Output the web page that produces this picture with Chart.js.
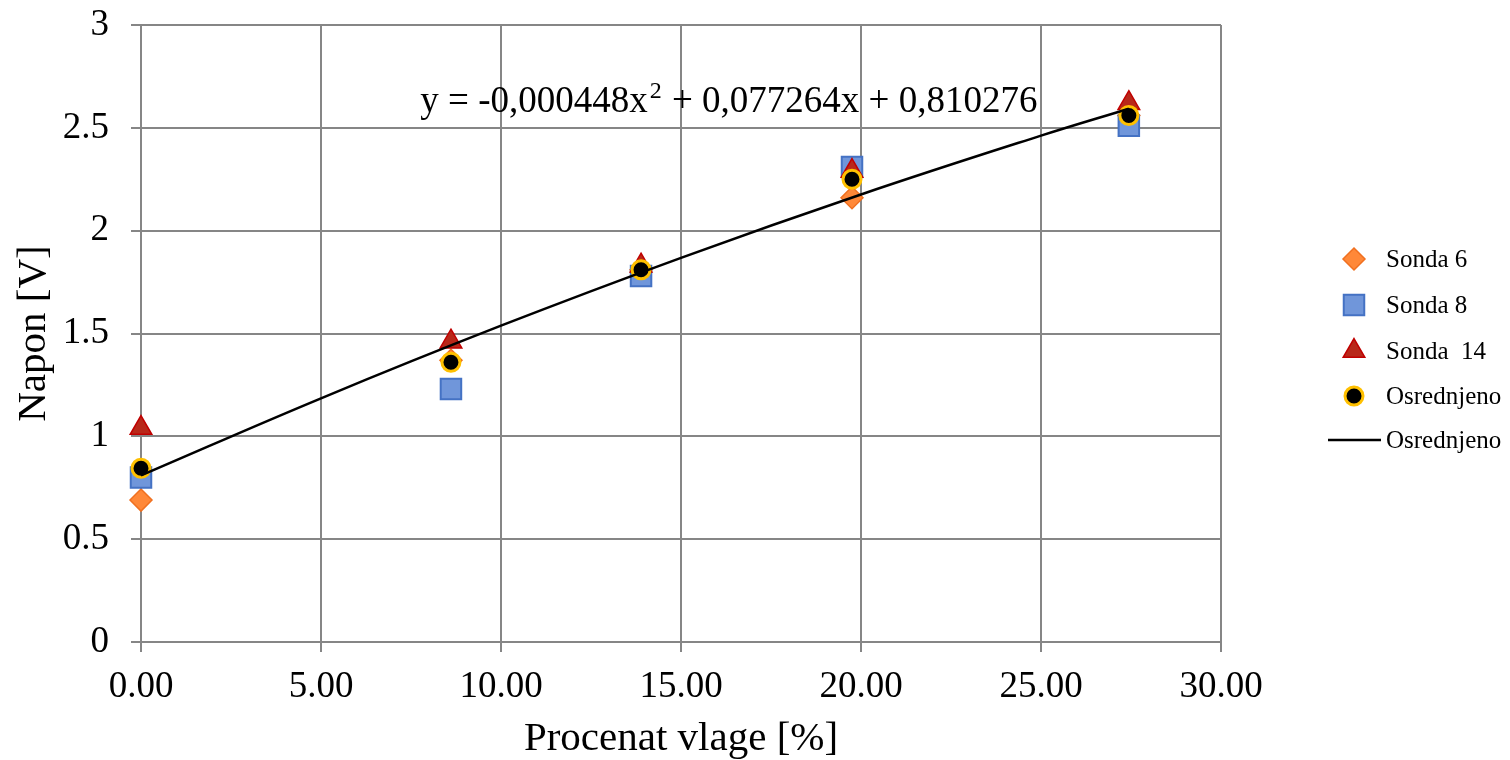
<!DOCTYPE html>
<html>
<head>
<meta charset="utf-8">
<script src="https://cdn.jsdelivr.net/npm/chart.js@4.4.1/dist/chart.umd.min.js"></script>
<style>
  html, body { margin: 0; padding: 0; background: #fff; }
  #wrap { width: 1510px; height: 760px; position: relative; }
</style>
</head>
<body>
<div id="wrap"><canvas id="chart"></canvas></div>
<script>
// Measured points (moisture % vs voltage)
const moisture = [0, 8.61, 13.89, 19.75, 27.44];
const sonda6 = [0.69, 1.37, 1.81, 2.16, 2.56];
const sonda8 = [0.80, 1.23, 1.78, 2.31, 2.51];
const sonda14 = [1.04, 1.46, 1.83, 2.29, 2.62];
const averaged = [0.845, 1.36, 1.81, 2.25, 2.56];

// Trendline
const trendX = [0, 5, 10, 15, 20, 25, 27.44];
const trendY = [0.81, 1.185, 1.538, 1.868, 2.176, 2.462, 2.593];

const eqParts = ["y = -0,000448x", "2", " + 0,077264x + 0,810276"];
const legendNames = ["Sonda 6", "Sonda 8", "Sonda  14", "Osrednjeno", "Osrednjeno"];

const serif = "'Liberation Serif', 'Times New Roman', serif";
const gridGray = "#868686";

function pts(xs, ys) {
  return xs.map((x, i) => ({ x: x, y: ys[i] }));
}

// equation label + legend drawn by hand
const extrasPlugin = {
  id: "extras",
  afterDraw(chart) {
    const ctx = chart.ctx;
    const xs = chart.scales.x, ys = chart.scales.y;
    ctx.save();
    ctx.fillStyle = "#000";
    ctx.textBaseline = "middle";
    ctx.textAlign = "left";
    const big = "37px " + serif, small = "24px " + serif;
    ctx.font = big;
    const w0 = ctx.measureText(eqParts[0]).width;
    const w2 = ctx.measureText(eqParts[2]).width;
    ctx.font = small;
    const w1 = ctx.measureText(eqParts[1]).width + 3;
    const cx = xs.getPixelForValue(16.33), cy = ys.getPixelForValue(2.625);
    let x = cx - (w0 + w1 + w2) / 2;
    ctx.font = big;
    ctx.fillText(eqParts[0], x, cy);
    ctx.font = small;
    ctx.fillText(eqParts[1], x + w0 + 2, cy - 10);
    ctx.font = big;
    ctx.fillText(eqParts[2], x + w0 + w1, cy);

    // legend
    ctx.font = "25px " + serif;
    const lx = 1354, tx = 1386;
    const rows = [259, 305, 351, 396, 440];
    chart.data.datasets.slice().sort((a, b) => a.legendIdx - b.legendIdx).forEach((ds, i) => {
      const y = rows[i];
      if (ds.showLine) {
        ctx.strokeStyle = ds.borderColor;
        ctx.lineWidth = 2.5;
        ctx.beginPath();
        ctx.moveTo(1328, y);
        ctx.lineTo(1381, y);
        ctx.stroke();
      } else {
        ctx.fillStyle = ds.pointBackgroundColor;
        ctx.strokeStyle = ds.pointBorderColor;
        ctx.lineWidth = ds.pointBorderWidth;
        Chart.helpers.drawPoint(ctx, { pointStyle: ds.pointStyle, radius: ds.pointRadius, rotation: 0, borderWidth: ds.pointBorderWidth }, lx, y);
      }
      ctx.fillStyle = "#000";
      ctx.fillText(legendNames[i], tx, y + 1);
    });
    ctx.restore();
  }
};

new Chart(document.getElementById("chart"), {
  type: "scatter",
  data: {
    datasets: [
      {
        label: "Osrednjeno",
        legendIdx: 4,
        data: pts(trendX, trendY),
        showLine: true,
        borderColor: "#000",
        borderWidth: 2.5,
        pointRadius: 0,
        tension: 0.4,
        clip: false,
        order: 0
      },
      {
        label: "Osrednjeno",
        legendIdx: 3,
        data: pts(moisture, averaged),
        pointStyle: "circle",
        pointRadius: 9,
        pointBackgroundColor: "#000",
        pointBorderColor: "#FFC000",
        pointBorderWidth: 3,
        clip: false,
        order: 1
      },
      {
        label: "Sonda  14",
        legendIdx: 2,
        data: pts(moisture, sonda14),
        pointStyle: "triangle",
        pointRadius: 12.5,
        pointBackgroundColor: "#B8281A",
        pointBorderColor: "#C00000",
        pointBorderWidth: 1.5,
        clip: false,
        order: 2
      },
      {
        label: "Sonda 8",
        legendIdx: 1,
        data: pts(moisture, sonda8),
        pointStyle: "rect",
        pointRadius: 14.5,
        pointBackgroundColor: "#7096DA",
        pointBorderColor: "#4472C4",
        pointBorderWidth: 2,
        clip: false,
        order: 3
      },
      {
        label: "Sonda 6",
        legendIdx: 0,
        data: pts(moisture, sonda6),
        pointStyle: "rectRot",
        pointRadius: 11,
        pointBackgroundColor: "#FF8838",
        pointBorderColor: "#F07020",
        pointBorderWidth: 1.5,
        clip: false,
        order: 4
      }
    ]
  },
  options: {
    responsive: true,
    maintainAspectRatio: false,
    animation: false,
    layout: { padding: { left: 0, top: 25, right: 289, bottom: 0 } },
    plugins: { legend: { display: false }, tooltip: { enabled: false } },
    scales: {
      x: {
        type: "linear",
        min: 0, max: 30,
        afterFit(s) { s.height = 118; s.paddingLeft = 0; s.paddingRight = 0; },
        grid: { color: gridGray, lineWidth: 2, tickLength: 10 },
        border: { color: gridGray, width: 2 },
        ticks: {
          stepSize: 5,
          padding: 13,
          color: "#000",
          font: { family: serif, size: 37 },
          callback: v => v.toFixed(2)
        },
        title: {
          display: true,
          text: "Procenat vlage [%]",
          color: "#000",
          font: { family: serif, size: 41, lineHeight: 1.0 },
          padding: { top: 0, bottom: 0 }
        }
      },
      y: {
        min: 0, max: 3,
        afterFit(s) { s.width = 141; s.paddingTop = 0; s.paddingBottom = 0; },
        grid: { color: gridGray, lineWidth: 2, tickLength: 10 },
        border: { color: gridGray, width: 2 },
        ticks: {
          stepSize: 0.5,
          padding: 22,
          color: "#000",
          font: { family: serif, size: 37 },
          callback: v => String(v)
        },
        title: {
          display: true,
          text: "Napon [V]",
          color: "#000",
          font: { family: serif, size: 41 },
          padding: { top: 10, bottom: 0 }
        }
      }
    }
  },
  plugins: [extrasPlugin]
});
</script>
</body>
</html>
